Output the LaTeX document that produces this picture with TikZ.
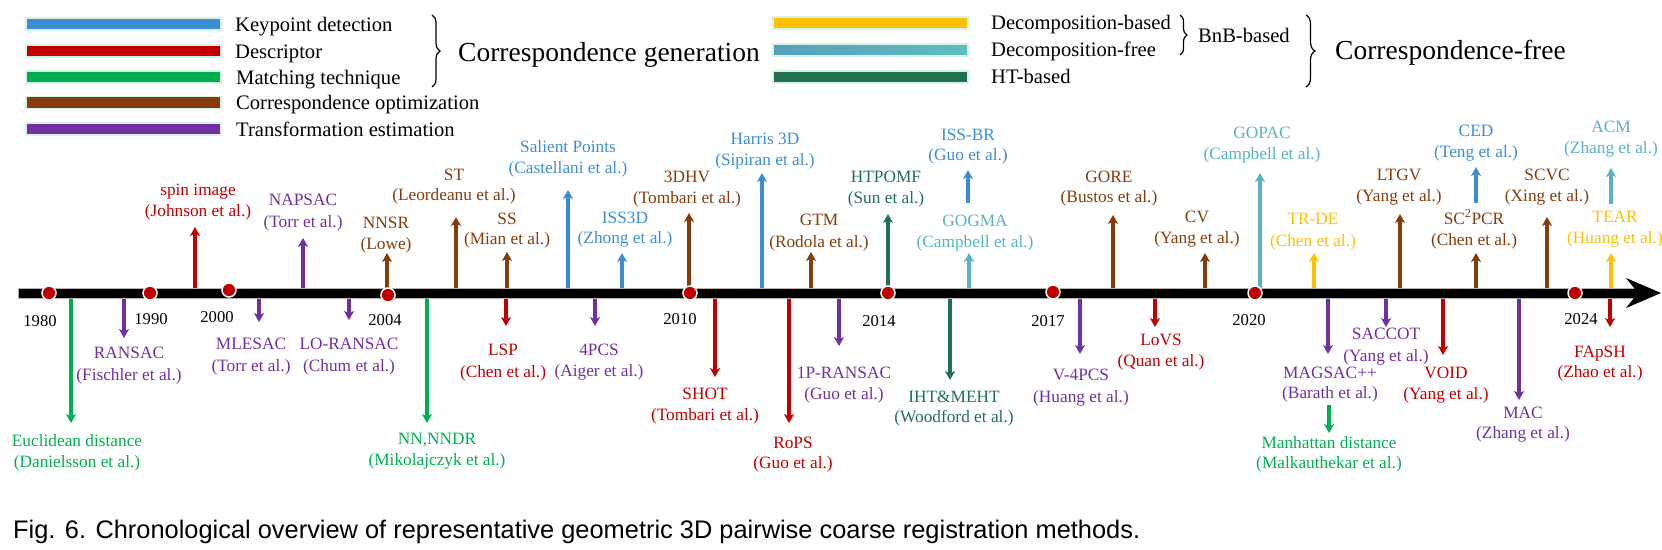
\documentclass[tikz,border=0pt]{standalone}
\usepackage{fontspec}
\setmainfont{Liberation Serif}
\newfontfamily\capfont{Liberation Sans}
\usetikzlibrary{arrows.meta,decorations.pathreplacing,shapes.geometric}

\definecolor{kpblue}{RGB}{61,142,208}
\definecolor{dred}{RGB}{192,0,0}
\definecolor{mgreen}{RGB}{0,176,80}
\definecolor{cbrown}{RGB}{132,60,12}
\definecolor{tpurple}{RGB}{112,48,160}
\definecolor{dyellow}{RGB}{255,192,0}
\definecolor{tealL}{RGB}{86,160,186}
\definecolor{tealR}{RGB}{94,190,192}
\definecolor{cteal}{RGB}{90,178,192}
\definecolor{htgreen}{RGB}{34,112,78}
\definecolor{legedge}{RGB}{215,240,232}

\tikzset{
 lab/.style={anchor=base, inner sep=0pt, font=\fontsize{17.3}{20}\selectfont},
 yearlab/.style={inner sep=0pt, font=\fontsize{16.6}{20}\selectfont},
 legtext/.style={anchor=base west, inner sep=0pt, font=\fontsize{20.6}{24}\selectfont},
 bigtext/.style={anchor=base west, inner sep=0pt, font=\fontsize{27.5}{32}\selectfont},
 legbar/.style={draw=legedge, line width=1.5pt, minimum width=195pt, minimum height=12pt, inner sep=0pt},
 evarrow/.style={line width=3.2pt, -{Stealth[length=9pt,width=10pt,inset=2.5pt]}},
 yeardot/.style={circle, fill=dred, draw=white, line width=1.5pt, minimum size=14pt, inner sep=0pt},
 lbrace/.style={decorate, decoration={brace, amplitude=#1}, line width=1.2pt},
 lbrace/.default=8pt,
}

% name, colour, x, tip y, label x, line1 centre y, line2 centre y, line1, line2
\newcommand\tlev[9]{%
 \coordinate (#1-s) at (#3,293);
 \coordinate (#1-t) at (#3,#4);
 \draw[evarrow,draw=#2] (#1-s) -- (#1-t);
 \node[lab,text=#2] (#1-a) at (#5,{#6+5}) {#8};
 \node[lab,text=#2] (#1-b) at (#5,{#7+5}) {#9};
}
% name, colour, x, start y, tip y, line1 centre y, line2 centre y, line1, line2
\newcommand\tlfl[9]{%
 \coordinate (#1-s) at (#3,#4);
 \coordinate (#1-t) at (#3,#5);
 \draw[evarrow,draw=#2] (#1-s) -- (#1-t);
 \node[lab,text=#2] (#1-a) at (#3,{#6+5}) {#8};
 \node[lab,text=#2] (#1-b) at (#3,{#7+5}) {#9};
}

\begin{document}
\begin{tikzpicture}[x=1pt,y=-1pt]
\useasboundingbox (0,0) rectangle (1662,549);

% ---------------- legend ----------------
\node[legbar,fill=kpblue] (bkp) at (123.5,24) {};
\node[legbar,fill=dred] (bde) at (123.5,51) {};
\node[legbar,fill=mgreen] (bmt) at (123.5,77) {};
\node[legbar,fill=cbrown] (bco) at (123.5,102.5) {};
\node[legbar,fill=tpurple] (bte) at (123.5,129) {};
\node[legtext] (tkp) at (235,31) {Keypoint detection};
\node[legtext] (tde) at (235,58) {Descriptor};
\node[legtext] (tmt) at (236,84) {Matching technique};
\node[legtext] (tco) at (236,109.5) {Correspondence optimization};
\node[legtext] (tte) at (236,136) {Transformation estimation};
\draw[lbrace=8pt] (432,15) -- (432,87);
\node[bigtext] (cgen) at (458,61.5) {Correspondence generation};

\node[legbar,fill=dyellow] (bdb) at (870.5,23) {};
\node[legbar,left color=tealL,right color=tealR] (bdf) at (870.5,50) {};
\node[legbar,fill=htgreen] (bht) at (870.5,77) {};
\node[legtext] (tdb) at (991,29.5) {Decomposition-based};
\node[legtext] (tdf) at (991,56) {Decomposition-free};
\node[legtext] (tht) at (991,83) {HT-based};
\draw[lbrace=7pt] (1180,15) -- (1180,55);
\node[legtext] (tbnb) at (1198,42) {BnB-based};
\draw[lbrace=9pt] (1306,15) -- (1306,87);
\node[bigtext] (cfree) at (1335,59.5) {Correspondence-free};

% ---------------- events above ----------------
\tlev{spin}{dred}{195}{227}{198}{190}{211}{spin image}{(Johnson et al.)}
\tlev{napsac}{tpurple}{303}{238}{303}{200}{222}{NAPSAC}{(Torr et al.)}
\tlev{nnsr}{cbrown}{387}{253}{386}{223}{244}{NNSR}{(Lowe)}
\tlev{st}{cbrown}{456}{217}{454}{175}{195}{ST}{(Leordeanu et al.)}
\tlev{ss}{cbrown}{507}{252}{507}{219}{239}{SS}{(Mian et al.)}
\tlev{salient}{kpblue}{568}{190}{568}{147}{168}{Salient Points}{(Castellani et al.)}
\tlev{issthreed}{kpblue}{622}{253}{625}{218}{238}{ISS3D}{(Zhong et al.)}
\tlev{hv}{cbrown}{689}{213}{687}{177}{198}{3DHV}{(Tombari et al.)}
\tlev{harris}{kpblue}{762}{173}{765}{139}{160}{Harris 3D}{(Sipiran et al.)}
\tlev{gtm}{cbrown}{811}{252}{819}{220}{242}{GTM}{(Rodola et al.)}
\tlev{htpomf}{htgreen}{888}{214}{886}{177}{198}{HTPOMF}{(Sun et al.)}
\tlev{gogma}{cteal}{969}{253}{975}{221}{242}{GOGMA}{(Campbell et al.)}
\tlev{gore}{cbrown}{1113}{215}{1109}{177}{197}{GORE}{(Bustos et al.)}
\tlev{cv}{cbrown}{1205}{253}{1197}{217}{238}{CV}{(Yang et al.)}
\tlev{gopac}{cteal}{1260}{173}{1262}{133}{154}{GOPAC}{(Campbell et al.)}
\tlev{trde}{dyellow}{1314}{253}{1313}{219}{241}{TR-DE}{(Chen et al.)}
\tlev{ltgv}{cbrown}{1400}{214}{1399}{175}{196}{LTGV}{(Yang et al.)}
\tlev{scpcr}{cbrown}{1476}{253}{1474}{219}{240}{SC\textsuperscript{2}PCR}{(Chen et al.)}
\tlev{scvc}{cbrown}{1547}{217}{1547}{175}{196}{SCVC}{(Xing et al.)}
\tlev{tear}{dyellow}{1611}{253}{1615}{217}{238}{TEAR}{(Huang et al.)}
\tlfl{issbr}{kpblue}{968}{203}{170}{135}{155}{ISS-BR}{(Guo et al.)}
\tlfl{ced}{kpblue}{1476}{203}{167}{131}{152}{CED}{(Teng et al.)}
\tlfl{acm}{cteal}{1611}{204}{168}{127}{148}{ACM}{(Zhang et al.)}

% ---------------- events below ----------------
\tlev{eucl}{mgreen}{71}{423}{77}{441}{462}{Euclidean distance}{(Danielsson et al.)}
\tlev{ransac}{tpurple}{124}{338}{129}{353}{375}{RANSAC}{(Fischler et al.)}
\tlev{mlesac}{tpurple}{259}{322}{251}{344}{366}{MLESAC}{(Torr et al.)}
\tlev{loransac}{tpurple}{349}{320}{349}{344}{366}{LO-RANSAC}{(Chum et al.)}
\tlev{nnndr}{mgreen}{427}{423}{437}{439}{460}{NN,NNDR}{(Mikolajczyk et al.)}
\tlev{lsp}{dred}{506}{326}{503}{350}{372}{LSP}{(Chen et al.)}
\tlev{fourpcs}{tpurple}{595}{326}{599}{350}{371}{4PCS}{(Aiger et al.)}
\tlev{shot}{dred}{715}{377}{705}{394}{415}{SHOT}{(Tombari et al.)}
\tlev{rops}{dred}{789}{423}{793}{443}{463}{RoPS}{(Guo et al.)}
\tlev{oneransac}{tpurple}{839}{346}{844}{373}{394}{1P-RANSAC}{(Guo et al.)}
\tlev{iht}{htgreen}{950}{380}{954}{397}{417}{IHT\&MEHT}{(Woodford et al.)}
\tlev{vfourpcs}{tpurple}{1080}{354}{1081}{375}{397}{V-4PCS}{(Huang et al.)}
\tlev{lovs}{dred}{1155}{327}{1161}{340}{361}{LoVS}{(Quan et al.)}
\tlev{magsac}{tpurple}{1328}{354}{1330}{373}{393}{MAGSAC++}{(Barath et al.)}
\tlev{saccot}{tpurple}{1386}{327}{1386}{334}{356}{SACCOT}{(Yang et al.)}
\tlev{voidm}{dred}{1443}{355}{1446}{373}{394}{VOID}{(Yang et al.)}
\tlev{mac}{tpurple}{1519}{400}{1523}{413}{433}{MAC}{(Zhang et al.)}
\tlev{fapsh}{dred}{1610}{327}{1600}{352}{372}{FApSH}{(Zhao et al.)}
\tlfl{manh}{mgreen}{1329}{405}{433}{443}{463}{Manhattan distance}{(Malkauthekar et al.)}

% ---------------- timeline bar ----------------
\fill[black, draw=gray!60, line width=0.6pt] (18,288) rectangle (1642,298);
\fill[black] (1626,278) -- (1661,293) -- (1626,308) -- (1638,293) -- cycle;

% year dots and labels
\node[yeardot] (d1980) at (49,293) {};
\node[yeardot] (d1990) at (150,293) {};
\node[yeardot] (d2000) at (229,290) {};
\node[yeardot] (d2004) at (388,295) {};
\node[yeardot] (d2010) at (690,293) {};
\node[yeardot] (d2014) at (888,293) {};
\node[yeardot] (d2017) at (1053,292) {};
\node[yeardot] (d2020) at (1255,293) {};
\node[yeardot] (d2024) at (1575,293) {};
\node[yearlab] (y1980) at (40,321) {1980};
\node[yearlab] (y1990) at (151,319) {1990};
\node[yearlab] (y2000) at (217,317) {2000};
\node[yearlab] (y2004) at (385,320) {2004};
\node[yearlab] (y2010) at (680,319) {2010};
\node[yearlab] (y2014) at (879,321) {2014};
\node[yearlab] (y2017) at (1048,321) {2017};
\node[yearlab] (y2020) at (1249,320) {2020};
\node[yearlab] (y2024) at (1581,319) {2024};

% caption
\node[anchor=base west, inner sep=0pt, font=\capfont\fontsize{25.4}{30}\selectfont] (caption) at (13,538) {Fig. 6. Chronological overview of representative geometric 3D pairwise coarse registration methods.};
\end{tikzpicture}
\end{document}
